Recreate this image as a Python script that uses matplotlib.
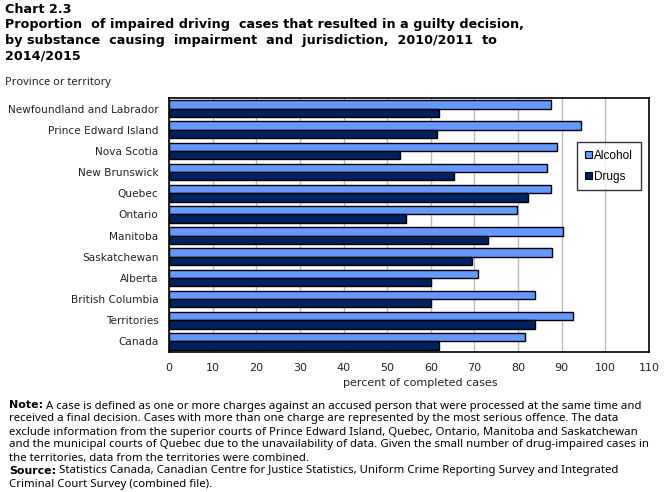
import matplotlib
matplotlib.use("Agg")
import matplotlib.pyplot as plt
import numpy as np
from matplotlib.patches import Patch

categories = ["Newfoundland and Labrador", "Prince Edward Island", "Nova Scotia",
              "New Brunswick", "Quebec", "Ontario", "Manitoba", "Saskatchewan",
              "Alberta", "British Columbia", "Territories", "Canada"]
alcohol = [87.5, 94.5, 88.9, 86.6, 87.5, 79.7, 90.3, 87.8, 70.9, 83.8, 92.6, 81.5]
drugs = [61.8, 61.5, 52.9, 65.4, 82.2, 54.3, 73.1, 69.5, 60.1, 60.1, 83.8, 61.8]
series_names = ["Alcohol", "Drugs"]
xticks = list(range(0, 111, 10))

W, H = 670, 492
fig = plt.figure(figsize=(W / 100, H / 100), dpi=100)
ax = fig.add_axes([169 / W, 1 - 352 / H, (649 - 169) / W, (352 - 98) / H])

c_alc = "#6699FF"
c_drg = "#002060"
y = np.arange(len(categories))
h = 0.39
ax.barh(y - h / 2, alcohol, height=h, color=c_alc, edgecolor="black", linewidth=1.0, zorder=3)
ax.barh(y + h / 2, drugs, height=h, color=c_drg, edgecolor="black", linewidth=1.0, zorder=3)

ax.set_xlim(0, 110)
ax.set_ylim(len(categories) - 0.5, -0.5)
ax.set_xticks(xticks)
ax.set_xticklabels([str(t) for t in xticks], fontsize=8, family="DejaVu Sans", color="#222222")
ax.set_yticks(y)
ax.set_yticklabels(categories, fontsize=7.55, family="DejaVu Sans", color="#222222")
ax.tick_params(axis="both", length=0)
ax.tick_params(axis="y", pad=7.5)
ax.tick_params(axis="x", pad=8)
ax.grid(axis="x", color="#BBBBBB", linewidth=1.0, zorder=0)
for s in ax.spines.values():
    s.set_linewidth(1.2)
    s.set_color("black")

fig.text(420 / W, 1 - 383 / H, "percent of completed cases", fontsize=8, family="DejaVu Sans",
         ha="center", va="center", color="#222222")

handles = [Patch(facecolor=c_alc, edgecolor="black", linewidth=0.8),
           Patch(facecolor=c_drg, edgecolor="black", linewidth=0.8)]
leg = fig.legend(handles, series_names, loc="upper left",
                 bbox_to_anchor=(577 / W, 1 - 142 / H), frameon=True, fancybox=False,
                 edgecolor="black", handlelength=0.6, handleheight=0.6,
                 handletextpad=0.2, labelspacing=0.75, borderpad=0.65, borderaxespad=0,
                 prop={"family": "Liberation Sans", "size": 8.5})
leg.get_frame().set_linewidth(1.0)

# Title
fig.text(5 / W, 1 - 3 / H, "Chart 2.3\nProportion  of impaired driving  cases that resulted in a guilty decision,\n"
         "by substance  causing  impairment  and  jurisdiction,  2010/2011  to\n2014/2015",
         fontsize=9.2, fontweight="bold", family="DejaVu Sans", va="top", ha="left",
         linespacing=1.24, color="black")
fig.text(5 / W, 1 - 82 / H, "Province or territory", fontsize=8, family="Noto Sans",
         va="center", ha="left", color="#222222")

# Notes
fig.canvas.draw()
renderer = fig.canvas.get_renderer()
note_fs = 8.2
note_fam = "Noto Sans"


def bold_then(x_px, y_px, bold, rest):
    t = fig.text(x_px / W, 1 - y_px / H, bold, fontsize=note_fs - 0.3, fontweight="bold",
                 family="DejaVu Sans", va="baseline", ha="left", color="black")
    bb = t.get_window_extent(renderer=renderer)
    fig.text(bb.x1 / W + 3 / W, 1 - y_px / H, rest, fontsize=note_fs, family=note_fam,
             va="baseline", ha="left", color="black")


lines = [
    ("Note:", "A case is defined as one or more charges against an accused person that were processed at the same time and"),
    (None, "received a final decision. Cases with more than one charge are represented by the most serious offence. The data"),
    (None, "exclude information from the superior courts of Prince Edward Island, Quebec, Ontario, Manitoba and Saskatchewan"),
    (None, "and the municipal courts of Quebec due to the unavailability of data. Given the small number of drug-impaired cases in"),
    (None, "the territories, data from the territories were combined."),
    ("Source:", "Statistics Canada, Canadian Centre for Justice Statistics, Uniform Crime Reporting Survey and Integrated"),
    (None, "Criminal Court Survey (combined file)."),
]
y0 = 408.5
for i, (b, r) in enumerate(lines):
    yy = y0 + i * 13.0
    if b:
        bold_then(9, yy, b, r)
    else:
        fig.text(9 / W, 1 - yy / H, r, fontsize=note_fs, family=note_fam, va="baseline",
                 ha="left", color="black")

fig.savefig("out.png", dpi=100)
